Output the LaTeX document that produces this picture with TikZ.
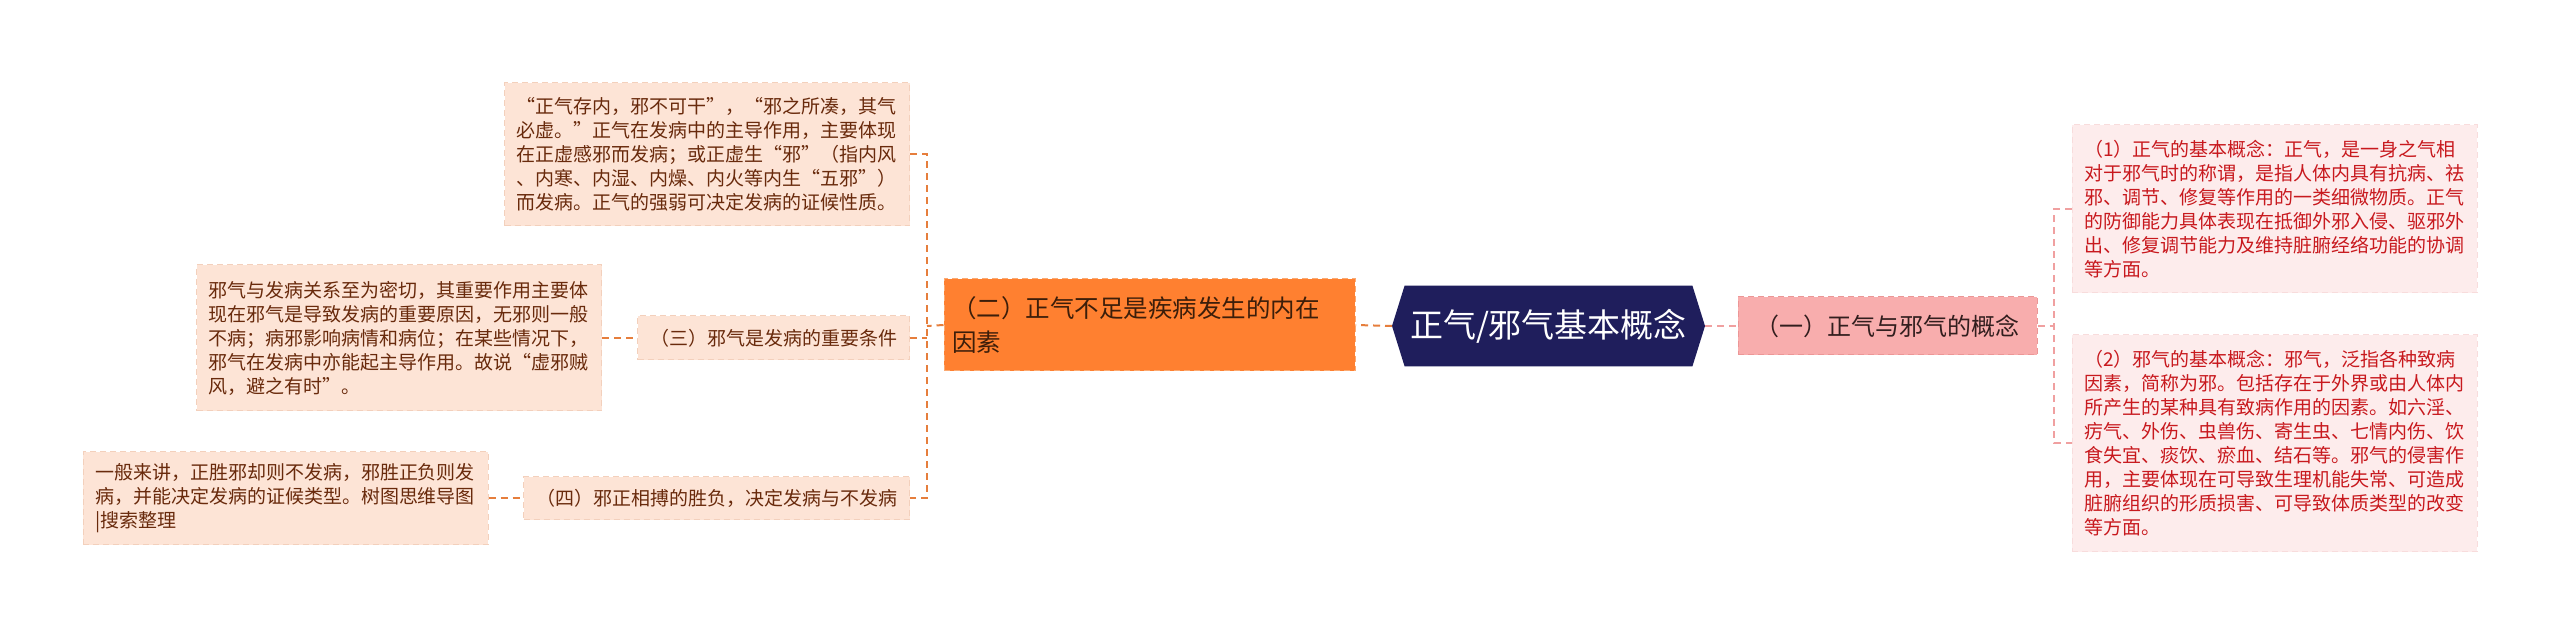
\documentclass[tikz,border=0pt]{standalone}
\usepackage{fontspec}
\setmainfont{Noto Sans CJK SC}
\usetikzlibrary{backgrounds}
\definecolor{navy}{RGB}{31,30,92}
\definecolor{orfill}{RGB}{255,128,48}
\definecolor{orborder}{RGB}{250,170,115}
\definecolor{ortext}{RGB}{60,30,10}
\definecolor{peach}{RGB}{253,228,214}
\definecolor{peachborder}{RGB}{243,208,188}
\definecolor{browntext}{RGB}{105,42,12}
\definecolor{orconn}{RGB}{230,126,60}
\definecolor{pinkfill}{RGB}{248,173,173}
\definecolor{pinkborder}{RGB}{236,150,150}
\definecolor{pinktext}{RGB}{50,30,30}
\definecolor{lpink}{RGB}{253,236,236}
\definecolor{lpinkborder}{RGB}{248,220,220}
\definecolor{redtext}{RGB}{200,25,30}
\definecolor{pkconn}{RGB}{240,160,160}
\tikzset{
  conn/.style={line width=1pt, dash pattern=on 3.5pt off 2.5pt},
  orc/.style={conn, draw=orconn},
  pkc/.style={conn, draw=pkconn},
  boxbase/.style={rectangle, inner ysep=0pt, dash pattern=on 3pt off 2pt, line width=0.5pt},
  peachbox/.style={boxbase, fill=peach, draw=peachborder, text=browntext, align=left,
    text width=190.5pt, inner xsep=6pt, font=\fontsize{9.5pt}{12pt}\selectfont},
  peachlabel/.style={boxbase, fill=peach, draw=peachborder, text=browntext,
    inner xsep=6pt, font=\fontsize{9.5pt}{12pt}\selectfont},
  redbox/.style={boxbase, fill=lpink, draw=lpinkborder, text=redtext, align=left,
    text width=190.5pt, inner xsep=6pt, font=\fontsize{9.5pt}{12pt}\selectfont},
  orangebox/.style={boxbase, fill=orfill, draw=orborder, text=ortext, align=left,
    text width=197.5pt, inner xsep=4pt, font=\fontsize{12.25pt}{17pt}\selectfont},
  pinkbox/.style={boxbase, fill=pinkfill, draw=pinkborder, text=pinktext,
    font=\fontsize{12pt}{15pt}\selectfont},
  centerbox/.style={rectangle, inner sep=0pt, text=white, font=\fontsize{16.5pt}{20pt}\selectfont}
}
\begin{document}
\begin{tikzpicture}[x=0.5pt,y=-0.5pt]
\useasboundingbox (0,0) rectangle (2560,635);

% central node
\node[centerbox, minimum width=143.5pt, minimum height=40pt] (c) at (1548.5,326) {正气/邪气基本概念};
\coordinate (cL) at (1392,326);
\coordinate (cR) at (1705,326);

% first level
\node[orangebox, minimum height=46pt] (o) at (1149.5,325) {（二）正气不足是疾病发生的内在\\因素};
\node[pinkbox, minimum width=149.5pt, minimum height=29pt] (n1) at (1887.5,326) {（一）正气与邪气的概念};

% right boxes
\node[redbox, minimum height=84pt] (r1) at (2274.5,209) {（1）正气的基本概念：正气，是一身之气相\\对于邪气时的称谓，是指人体内具有抗病、祛\\邪、调节、修复等作用的一类细微物质。正气\\的防御能力具体表现在抵御外邪入侵、驱邪外\\出、修复调节能力及维持脏腑经络功能的协调\\等方面。};
\node[redbox, minimum height=108.5pt] (r2) at (2274.5,443.5) {（2）邪气的基本概念：邪气，泛指各种致病\\因素，简称为邪。包括存在于外界或由人体内\\所产生的某种具有致病作用的因素。如六淫、\\疠气、外伤、虫兽伤、寄生虫、七情内伤、饮\\食失宜、痰饮、瘀血、结石等。邪气的侵害作\\用，主要体现在可导致生理机能失常、可造成\\脏腑组织的形质损害、可导致体质类型的改变\\等方面。};

% left boxes
\node[peachbox, minimum height=71.5pt] (bA) at (707,154.5) {“正气存内，邪不可干”，“邪之所凑，其气\\必虚。”正气在发病中的主导作用，主要体现\\在正虚感邪而发病；或正虚生“邪”（指内风\\、内寒、内湿、内燥、内火等内生“五邪”）\\而发病。正气的强弱可决定发病的证候性质。};
\node[peachlabel, minimum width=136pt, minimum height=22pt] (l3) at (773.5,338) {（三）邪气是发病的重要条件};
\node[peachbox, minimum height=73pt] (bB) at (399,338) {邪气与发病关系至为密切，其重要作用主要体\\现在邪气是导致发病的重要原因，无邪则一般\\不病；病邪影响病情和病位；在某些情况下，\\邪气在发病中亦能起主导作用。故说“虚邪贼\\风，避之有时”。};
\node[peachlabel, minimum width=193pt, minimum height=21.5pt] (l4) at (716.5,498.5) {（四）邪正相搏的胜负，决定发病与不发病};
\node[peachbox, minimum height=46.5pt] (bC) at (285.5,498.5) {一般来讲，正胜邪却则不发病，邪胜正负则发\\病，并能决定发病的证候类型。树图思维导图\\|搜索整理};

\coordinate (lj) at (927,326);
\coordinate (rj) at (2054,326);

\begin{scope}[on background layer]
\fill[white] (0,0) rectangle (2560,635);
\fill[navy] (cL) -- (c.north west) -- (c.north east) -- (cR) -- (c.south east) -- (c.south west) -- cycle;
\end{scope}

% connectors center
\draw[orc] (cL) -- (o.east);
\draw[pkc] (cR) -- (n1.west);
% right
\draw[pkc] (n1.east) -- (rj);
\draw[pkc] (r1.west) -- (r1.west -| rj) -- (r2.west -| rj) -- (r2.west);
% left
\draw[orc] (o.west) -- (lj);
\draw[orc] (bA.east) -- (bA.east -| lj) -- (l4.east -| lj) -- (l4.east);
\draw[orc] (l3.east) -- (l3.east -| lj);
\draw[orc] (bB.east) -- (l3.west);
\draw[orc] (bC.east) -- (l4.west);
\end{tikzpicture}
\end{document}
